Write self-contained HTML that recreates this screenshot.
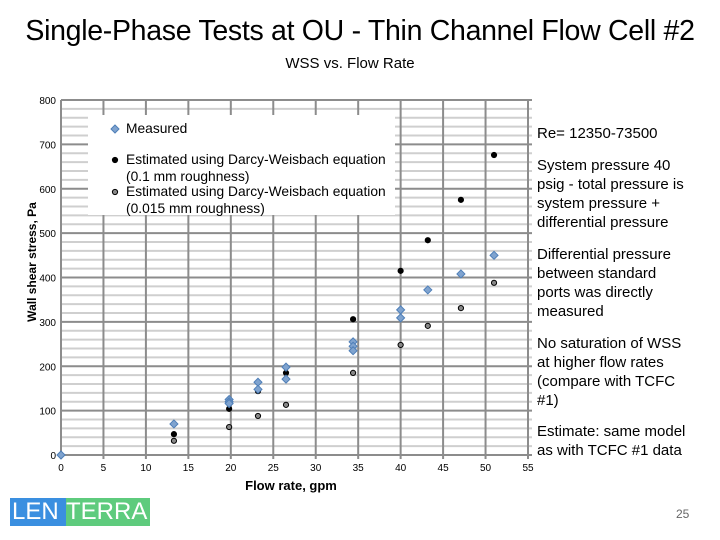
<!DOCTYPE html>
<html><head><meta charset="utf-8"><style>
body{margin:0;width:720px;height:540px;background:#fff;overflow:hidden;font-family:"Liberation Sans",sans-serif;position:relative}
.t{position:absolute;white-space:nowrap}
.n{font-size:15px;line-height:19px;white-space:normal;width:156px}
</style></head><body>
<div class="t" style="left:0;width:720px;text-align:center;top:15px;font-size:28.5px;color:#000;letter-spacing:-0.3px">Single-Phase Tests at OU - Thin Channel Flow Cell #2</div>
<div class="t" style="left:250px;width:200px;text-align:center;top:55px;font-size:15px">WSS vs. Flow Rate</div>
<svg id="c" width="720" height="540" style="position:absolute;left:0;top:0"></svg>
<div class="t" style="left:537px;top:125px;font-size:15px">Re= 12350-73500</div>
<div class="t n" style="left:537px;top:156px">System pressure 40 psig - total pressure is system pressure + differential pressure</div>
<div class="t n" style="left:537px;top:245px">Differential pressure between standard ports was directly measured</div>
<div class="t n" style="left:537px;top:334px">No saturation of WSS at higher flow rates (compare with TCFC #1)</div>
<div class="t n" style="left:537px;top:422px">Estimate: same model as with TCFC #1 data</div>
<div style="position:absolute;left:10px;top:498px;width:140px;height:28px;font-size:24px;line-height:28px;color:#fff">
<span style="display:inline-block;background:#3a8fe0;width:56px;padding-left:2px;box-sizing:border-box">LEN</span><span style="display:inline-block;background:#5ecb7d;width:84px">TERRA</span></div>
<div class="t" style="left:676px;top:507px;font-size:12px;color:#666">25</div>
<script>
const xMeasured=[0,13.3,19.8,19.8,19.8,23.2,23.2,26.5,26.5,34.4,34.4,34.4,40,40,43.2,47.1,51];
const yMeasured=[0,70,125,120,116,164,148,198,171,255,245,235,327,309,372,408,450];
const xRough=[13.3,19.8,23.2,26.5,34.4,40,43.2,47.1,51];
const yRough=[47,104,144,185,306,415,484,575,676];
const ySmooth=[32,63,88,113,185,248,291,331,388];
const xTicks=[0,5,10,15,20,25,30,35,40,45,50,55];
const yTicks=[0,100,200,300,400,500,600,700,800];
const NS='http://www.w3.org/2000/svg';
const svg=document.getElementById('c');
const X0=61,X1=528,Y0=455,Y1=100;
const sx=v=>X0+v/55*(X1-X0), sy=v=>Y0-v/800*(Y0-Y1);
function el(t,a,p){const e=document.createElementNS(NS,t);for(const k in a)e.setAttribute(k,a[k]);(p||svg).appendChild(e);return e;}
for(let v=0;v<=800;v+=20){const l=el('line',{x1:X0,x2:532,y1:sy(v),y2:sy(v),stroke:v%100?'#cfcfcf':'#8c8c8c','stroke-width':2});

}
xTicks.forEach(v=>{const l=el('line',{x1:sx(v),x2:sx(v),y1:Y1,y2:Y0+4,stroke:'#8c8c8c','stroke-width':2});


const t=el('text',{x:sx(v),y:Y0+16,'font-size':10,'text-anchor':'middle','font-family':'Liberation Sans'});t.textContent=v;

});
yTicks.forEach(v=>{const t=el('text',{x:X0-5,y:sy(v)+4,'font-size':10,'text-anchor':'end','font-family':'Liberation Sans'});t.textContent=v;

});
const lg=el('rect',{x:88,y:115,width:307,height:100,fill:'#fff'});


const yt=el('text',{x:36,y:262,'font-size':12,'font-weight':'bold','text-anchor':'middle','font-family':'Liberation Sans',transform:'rotate(-90 36 262)'});yt.textContent='Wall shear stress, Pa';


const xt=el('text',{x:291,y:490,'font-size':13,'font-weight':'bold','text-anchor':'middle','font-family':'Liberation Sans'});xt.textContent='Flow rate, gpm';


function diamond(x,y){const p=el('path',{d:`M${x} ${y-4}L${x+4} ${y}L${x} ${y+4}L${x-4} ${y}Z`,fill:'#7fa3cf',stroke:'#4f7fb8','stroke-width':1});return p;}
function dot(x,y,f){return el('circle',{cx:x,cy:y,r:2.6,fill:f,stroke:'#000','stroke-width':1});}
xRough.forEach((v,i)=>{const a=dot(sx(v),sy(yRough[i]),'#000');


const b=dot(sx(v),sy(ySmooth[i]),'#888');

});
xMeasured.forEach((v,i)=>{const d=diamond(sx(v),sy(yMeasured[i]));

});
const l1=diamond(115,129);
const l2=dot(115,160,'#000');
const l3=dot(115,192,'#888');
[['Measured',133],['Estimated using Darcy-Weisbach equation',164],['(0.1 mm roughness)',181],['Estimated using Darcy-Weisbach equation',196],['(0.015 mm roughness)',213]].forEach(([s,y])=>{
const t=el('text',{x:126,y:y,'font-size':13.8,'font-family':'Liberation Sans'});t.textContent=s;

});
</script>
</body></html>
